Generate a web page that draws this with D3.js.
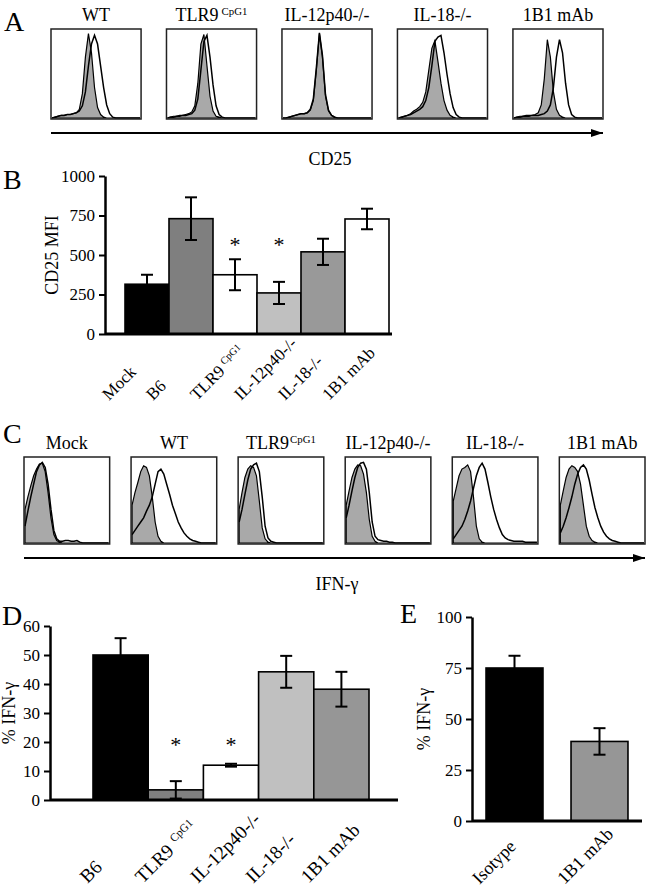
<!DOCTYPE html>
<html>
<head>
<meta charset="utf-8">
<script src="https://cdn.jsdelivr.net/npm/d3@7"></script>
<style>
  body { margin: 0; background: #fff; }
</style>
</head>
<body>
<script>
// ---------- data ----------

// Panel A: CD25 histograms (30 bins, % of peak height)
const aTitles = ["WT", "TLR9 ^CpG1", "IL-12p40-/-", "IL-18-/-", "1B1 mAb"];
const aGray = [
  [0,1,2,3,3,4,4,5,6,10, 28,70,97,75,35,12,4,1,0,0, 0,0,0,0,0,0,0,0,0,0],
  [0,1,2,2,3,3,4,5,7,14, 40,85,96,60,25,8,2,1,0,0, 0,0,0,0,0,0,0,0,0,0],
  [0,0,1,2,3,4,5,5,6,9, 20,55,97,70,25,8,3,1,0,0, 0,0,0,0,0,0,0,0,0,0],
  [0,1,2,3,5,8,10,13,18,30, 55,80,89,65,40,20,9,3,1,0, 0,0,0,0,0,0,0,0,0,0],
  [0,1,2,2,3,3,3,4,6,15, 45,90,70,30,10,3,1,0,0,0, 0,0,0,0,0,0,0,0,0,0]
];
const aOpen = [
  [0,1,2,3,3,4,4,5,6,8, 14,30,60,85,95,85,60,35,15,5, 1,0,0,0,0,0,0,0,0,0],
  [0,1,1,2,2,3,3,4,5,9, 22,55,88,95,70,38,14,4,1,0, 0,0,0,0,0,0,0,0,0,0],
  [0,0,1,2,3,4,5,5,6,10, 22,58,98,72,27,9,3,1,0,0, 0,0,0,0,0,0,0,0,0,0],
  [0,1,2,3,4,6,8,10,13,20, 35,60,88,93,95,75,50,28,12,4, 1,0,0,0,0,0,0,0,0,0],
  [0,1,1,2,2,2,3,3,3,4, 5,8,15,35,70,90,75,40,15,4, 1,0,0,0,0,0,0,0,0,0]
];

// Panel B: CD25 MFI
const bCats = ["Mock", "B6", "TLR9 ^CpG1", "IL-12p40-/-", "IL-18-/-", "1B1 mAb"];
const bValues = [315, 730, 375, 260, 520, 728];
const bErrors = [60, 135, 98, 70, 83, 65];
const bStars = [false, false, true, true, false, false];
const bTicks = [0, 250, 500, 750, 1000];
const bColors = ["#000000", "#7f7f7f", "#ffffff", "#c0c0c0", "#999999", "#ffffff"];

// Panel C: IFN-gamma histograms
const cTitles = ["Mock", "WT", "TLR9^CpG1", "IL-12p40-/-", "IL-18-/-", "1B1 mAb"];
const cGray = [
  [40,55,68,80,88,94,95,85,60,30, 10,3,1,0,0,0,0,0,0,0, 0,0,0,0,0,0,0,0,0,0],
  [45,60,72,85,92,90,80,55,25,8, 2,0,0,0,0,0,0,0,0,0, 0,0,0,0,0,0,0,0,0,0],
  [40,60,78,88,92,90,80,50,18,5, 1,0,0,0,0,0,0,0,0,0, 0,0,0,0,0,0,0,0,0,0],
  [45,62,78,88,93,92,82,60,28,8, 2,0,0,0,0,0,0,0,0,0, 0,0,0,0,0,0,0,0,0,0],
  [50,65,80,88,90,93,85,55,20,5, 1,0,0,0,0,0,0,0,0,0, 0,0,0,0,0,0,0,0,0,0],
  [45,62,78,88,92,90,85,70,45,20, 8,3,1,0,0,0,0,0,0,0, 0,0,0,0,0,0,0,0,0,0]
];
const cOpen = [
  [20,38,55,70,85,93,96,90,70,40, 15,5,2,2,3,3,2,2,3,1, 0,0,0,0,0,0,0,0,0,0],
  [10,15,20,25,30,38,45,55,70,85, 88,82,70,58,45,35,25,18,12,8, 5,3,2,1,0,0,0,0,0,0],
  [25,40,58,75,88,93,95,85,55,20, 6,2,1,0,0,0,0,0,0,0, 0,0,0,0,0,0,0,0,0,0],
  [30,45,62,78,90,95,96,88,60,25, 8,4,3,2,2,1,1,0,0,0, 0,0,0,0,0,0,0,0,0,0],
  [5,10,15,20,28,38,50,65,80,90, 95,88,72,55,40,28,18,10,6,4, 3,2,2,2,2,1,1,1,1,1],
  [12,20,30,42,55,70,82,90,93,88, 75,58,42,30,20,13,8,5,3,2, 1,0,0,0,0,0,0,0,0,0]
];

// Panel D: % IFN-gamma
const dCats = ["B6", "TLR9 ^CpG1", "IL-12p40-/-", "IL-18-/-", "1B1 mAb"];
const dValues = [50, 3.5, 12, 44.2, 38.2];
const dErrors = [5.8, 3, 0.5, 5.5, 6];
const dStars = [false, true, true, false, false];
const dTicks = [0, 10, 20, 30, 40, 50, 60];
const dColors = ["#000000", "#808080", "#ffffff", "#c0c0c0", "#969696"];

// Panel E: % IFN-gamma, isotype vs 1B1
const eCats = ["Isotype", "1B1 mAb"];
const eValues = [75, 39];
const eErrors = [6, 6.5];
const eTicks = [0, 25, 50, 75, 100];
const eColors = ["#000000", "#969696"];

// ---------- drawing ----------

const FONT = "Liberation Serif, DejaVu Serif, serif";

const svg = d3.select("body").append("svg")
  .attr("width", 648)
  .attr("height", 891)
  .attr("font-family", FONT);

svg.append("defs").append("marker")
  .attr("id", "arrowhead")
  .attr("viewBox", "0 -4 12 8")
  .attr("refX", 12)
  .attr("refY", 0)
  .attr("markerUnits", "userSpaceOnUse")
  .attr("markerWidth", 12)
  .attr("markerHeight", 8)
  .attr("orient", "auto")
  .append("path")
  .attr("d", "M0,-4L12,0L0,4Z")
  .attr("fill", "#000");

// text with an optional "^superscript" part
function addLabel(text, label, supDx) {
  const parts = label.split("^");
  text.append("tspan").text(parts[0].trim());
  if (parts[1]) {
    text.append("tspan")
      .attr("font-size", "0.6em")
      .attr("dx", parts[0].endsWith(" ") ? supDx : 1)
      .attr("dy", "-0.6em")
      .text(parts[1]);
  }
}

function panelLetter(letter, x, y) {
  svg.append("text").attr("x", x).attr("y", y)
    .attr("font-size", 28).text(letter);
}

// one row of flow histograms
function histRow(titles, gray, open, x0, x1, y0, h, pad) {
  const band = d3.scaleBand().domain(titles).range([x0, x1]).paddingInner(pad);
  const y = d3.scaleLinear().domain([0, 100]).range([y0 + h - 1, y0 + 2]);
  titles.forEach((t, i) => {
    const bx = band(t), w = band.bandwidth();
    const x = d3.scaleLinear().domain([0, gray[i].length - 1]).range([bx + 1, bx + w - 1]);
    const area = d3.area().x((d, j) => x(j)).y0(y(0)).y1(d => y(d));
    const line = d3.line().x((d, j) => x(j)).y(d => y(d));
    const g = svg.append("g");
    g.append("path").datum(gray[i]).attr("d", area)
      .attr("fill", "#a9a9a9").attr("stroke", "#000").attr("stroke-width", 1.2);
    g.append("path").datum(open[i]).attr("d", line)
      .attr("fill", "none").attr("stroke", "#000").attr("stroke-width", 1.5);
    g.append("rect").attr("x", bx).attr("y", y0).attr("width", w).attr("height", h)
      .attr("fill", "none").attr("stroke", "#222").attr("stroke-width", 1.5);
    const tt = g.append("text").attr("x", bx + w / 2).attr("y", y0 - 8)
      .attr("text-anchor", "middle").attr("font-size", 18);
    addLabel(tt, t, 3);
  });
}

function axisArrow(x0, x1, y, label, lx, ly) {
  svg.append("line").attr("x1", x0).attr("x2", x1).attr("y1", y).attr("y2", y)
    .attr("stroke", "#000").attr("stroke-width", 1.8)
    .attr("marker-end", "url(#arrowhead)");
  svg.append("text").attr("x", lx).attr("y", ly)
    .attr("text-anchor", "middle").attr("font-size", 18).text(label);
}

// bar chart with error bars
function barPanel(o) {
  const g = svg.append("g");
  const x = d3.scaleBand().domain(o.cats).range(o.barRange)
    .paddingInner(o.padIn || 0).paddingOuter(o.padOut || 0);
  const y = d3.scaleLinear().domain([0, d3.max(o.ticks)]).range([o.yBottom, o.yTop]);
  const cx = i => x(o.cats[i]) + x.bandwidth() / 2;

  g.selectAll("rect.bar").data(o.values).join("rect")
    .attr("class", "bar")
    .attr("x", (d, i) => x(o.cats[i]))
    .attr("y", d => y(d))
    .attr("width", x.bandwidth())
    .attr("height", d => y(0) - y(d))
    .attr("fill", (d, i) => o.colors[i])
    .attr("stroke", "#000")
    .attr("stroke-width", 1.6);

  o.values.forEach((v, i) => {
    const top = y(v + o.errors[i]), bot = y(Math.max(0, v - o.errors[i]));
    g.append("line").attr("x1", cx(i)).attr("x2", cx(i)).attr("y1", top).attr("y2", bot)
      .attr("stroke", "#000").attr("stroke-width", 2);
    [top, bot].forEach(yy => {
      g.append("line").attr("x1", cx(i) - 6).attr("x2", cx(i) + 6).attr("y1", yy).attr("y2", yy)
        .attr("stroke", "#000").attr("stroke-width", 2);
    });
    if (o.stars && o.stars[i]) {
      g.append("text").attr("x", cx(i)).attr("y", y(o.starLevel))
        .attr("text-anchor", "middle").attr("font-size", 22).text("*");
    }
  });

  const ax = g.append("g")
    .attr("transform", `translate(${o.axisX0},0)`)
    .call(d3.axisLeft(y).tickValues(o.ticks).tickFormat(d3.format("d"))
      .tickSize(6).tickSizeOuter(0).tickPadding(4));
  ax.attr("font-family", FONT).attr("font-size", 17);
  ax.select(".domain").attr("stroke-width", 2.5);
  ax.selectAll(".tick line").attr("stroke-width", 2);

  g.append("line")
    .attr("x1", o.axisX0).attr("x2", o.axisX1)
    .attr("y1", y(0)).attr("y2", y(0))
    .attr("stroke", "#000").attr("stroke-width", 2.8);

  // rotated labels, anchored at their lower-left start
  o.cats.forEach((c, i) => {
    const t = g.append("text")
      .attr("text-anchor", "start")
      .attr("font-size", o.labelSize)
      .attr("transform", `translate(${cx(i) + o.labelDx},${y(0) + o.labelDy}) rotate(-45)`);
    addLabel(t, c, o.supDx);
  });

  g.append("text")
    .attr("transform", `translate(${o.titleX},${(o.yTop + o.yBottom) / 2}) rotate(-90)`)
    .attr("text-anchor", "middle")
    .attr("font-size", 18)
    .text(o.title);
}

// Panel A
panelLetter("A", 4, 31);
histRow(aTitles, aGray, aOpen, 51, 603, 29, 90, 0.22);
axisArrow(51, 603, 133, "CD25", 330, 165);

// Panel B
panelLetter("B", 3, 189);
barPanel({
  cats: bCats, values: bValues, errors: bErrors, stars: bStars, starLevel: 520,
  ticks: bTicks, colors: bColors,
  barRange: [125, 389], yBottom: 334, yTop: 176,
  axisX0: 105, axisX1: 392,
  labelDx: -38, labelDy: 67, labelSize: 17, supDx: 4,
  title: "CD25 MFI", titleX: 58
});

// Panel C
panelLetter("C", 3, 443);
histRow(cTitles, cGray, cOpen, 24, 645, 457, 87, 0.2);
axisArrow(24, 645, 558, "IFN-\u03b3", 337, 590);

// Panel D
panelLetter("D", 2, 625);
barPanel({
  cats: dCats, values: dValues, errors: dErrors, stars: dStars, starLevel: 16.5,
  ticks: dTicks, colors: dColors,
  barRange: [93, 369], yBottom: 800, yTop: 626,
  axisX0: 50, axisX1: 398,
  labelDx: -33, labelDy: 84, labelSize: 19, supDx: 6,
  title: "% IFN-\u03b3", titleX: 15
});

// Panel E
panelLetter("E", 400, 623);
barPanel({
  cats: eCats, values: eValues, errors: eErrors,
  ticks: eTicks, colors: eColors,
  barRange: [472, 642], padIn: 0.33, padOut: 0.165,
  yBottom: 821, yTop: 617,
  axisX0: 472, axisX1: 642,
  labelDx: -35, labelDy: 64, labelSize: 18, supDx: 3,
  title: "% IFN-\u03b3", titleX: 430
});
</script>
</body>
</html>
